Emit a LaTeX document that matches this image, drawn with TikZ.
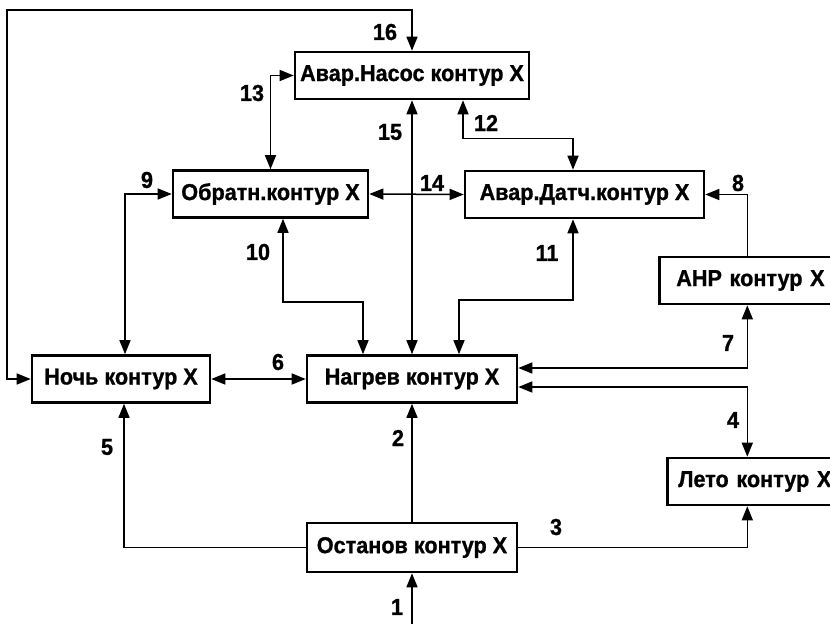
\documentclass[tikz,border=0pt]{standalone}
\usepackage{fontspec}
\setmainfont{Liberation Sans}[FakeStretch=0.94, FakeBold=1]
\usepackage{tikz}
\usetikzlibrary{arrows.meta,calc}

\begin{document}
\begin{tikzpicture}[x=1pt, y=-1pt, font=\fontsize{23}{27}\selectfont\bfseries, box/.style={draw, line width=2.6pt, inner sep=0pt, minimum height=47pt}, num/.style={inner sep=0pt}, arr/.style={-{Triangle[length=14pt,width=11pt]}, line width=1.5pt}, arrs/.style={{Triangle[length=14pt,width=11pt]}-{Triangle[length=14pt,width=11pt]}, line width=1.5pt}]
\useasboundingbox (0,0) rectangle (830,624);
\node[box, minimum width=234pt] (nasos) at (412,75.5) {Авар.Насос контур X};
\node[box, minimum width=195pt] (obr) at (270.5,194) {Обратн.контур X};
\node[box, minimum width=239pt] (datch) at (584.5,194.5) {Авар.Датч.контур X};
\node[box, anchor=west, inner xsep=17pt, text width=160pt, align=left] (ahp) at (658,280.5) {AHP контур X};
\node[box, minimum width=178pt] (noch) at (121,379) {Ночь контур X};
\node[box, minimum width=210pt] (nagrev) at (412,379) {Нагрев контур X};
\node[box, anchor=west, inner xsep=11pt, text width=160pt, align=left] (leto) at (666,481.5) {Лето контур X};
\node[box, minimum width=210pt, minimum height=49pt] (ostanov) at (412,547.5) {Останов контур X};
\coordinate (input) at (412,624);
\coordinate (loop) at (7,10);
\draw[arr] (input) -- (ostanov.south);
\draw[arr] (ostanov.north) -- (nagrev.south);
\draw[arr] (ostanov.east) -| ([xshift=-11pt]leto.south);
\draw[arr] (ostanov.west) -| ([xshift=3pt]noch.south);
\draw[arrs] ([yshift=-8pt]nagrev.east) -| ([xshift=-11pt]leto.north);
\draw[arrs] ([yshift=11pt]nagrev.east) -| ([xshift=-9pt]ahp.south);
\draw[arr] ([xshift=-9pt]ahp.north) |- (datch.east);
\draw[arrs] (noch.east) -- (nagrev.west);
\draw[arrs] ([xshift=4pt]noch.north) |- (obr.west);
\draw[arrs] ([xshift=12.5pt]obr.south) -- ++(0,83) -| ([xshift=-49pt]nagrev.north);
\draw[arrs] ([xshift=47pt]nagrev.north) -- ++(0,-54) -| ([xshift=-11.5pt]datch.south);
\draw[arrs] (nagrev.north) -- (nasos.south);
\draw[arrs] (obr.east) -- (datch.west);
\draw[arrs] (nasos.west) -| (obr.north);
\draw[arrs] ([xshift=51pt]nasos.south) -- ++(0,38) -| ([xshift=-11.5pt]datch.north);
\draw[arrs] (noch.west) -| (loop) -| (nasos.north);
\node[num] (n1) at (397,607) {1};
\node[num] (n2) at (398,438) {2};
\node[num] (n3) at (556,527) {3};
\node[num] (n4) at (733,420) {4};
\node[num] (n5) at (107,447) {5};
\node[num] (n6) at (278,362) {6};
\node[num] (n7) at (728,343) {7};
\node[num] (n8) at (738,183) {8};
\node[num] (n9) at (147,180) {9};
\node[num] (n10) at (258,252) {10};
\node[num] (n11) at (547,253) {11};
\node[num] (n12) at (486,123) {12};
\node[num] (n13) at (252,93) {13};
\node[num] (n14) at (432,183) {14};
\node[num] (n15) at (390,132) {15};
\node[num] (n16) at (385,32) {16};
\end{tikzpicture}
\end{document}
